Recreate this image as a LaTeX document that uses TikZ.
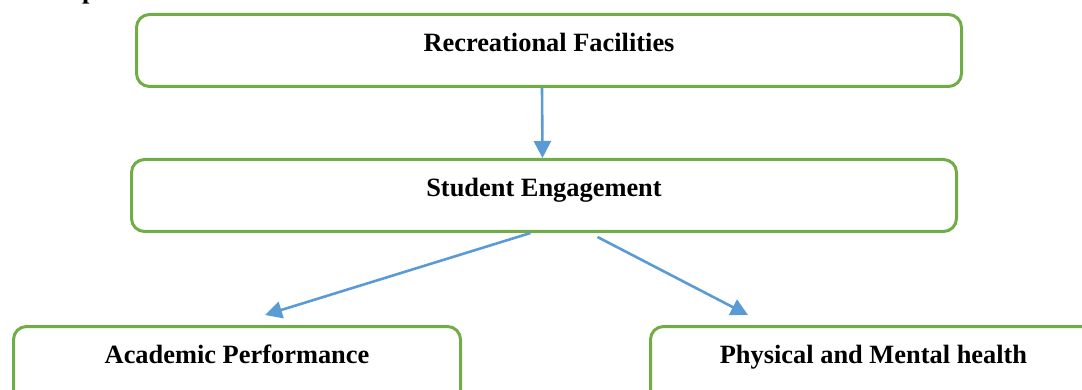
\documentclass[tikz,border=0pt]{standalone}
\usepackage{fontspec}
\setmainfont{Liberation Serif}
\usetikzlibrary{arrows.meta,calc}
\definecolor{boxgreen}{HTML}{70AD47}
\definecolor{linkblue}{HTML}{5B9BD5}
\begin{document}
\begin{tikzpicture}[x=1pt,y=-1pt,
  box/.style={draw=boxgreen,line width=3pt,rounded corners=13pt,
    minimum width=#1,minimum height=72pt,anchor=north west,inner sep=0pt},
  box/.default=825pt,
  label/.style={anchor=base,font=\fontsize{26.4}{30}\selectfont\bfseries,inner sep=0pt},
  link/.style={draw=linkblue,line width=2.6pt,
    -{Triangle[length=17pt,width=17pt]}}]
\useasboundingbox (0,0) rectangle (1082,390);

% heading line above the chart, mostly outside the page
\node[label,anchor=base west] (head) at (82,-1.5) {p};

% boxes
\node[box=825pt] (rf) at (135,13) {};
\node[box=825pt] (se) at (130,158) {};
\node[box=447pt,minimum height=80pt] (ap) at (12,325) {};
\node[box=446pt,minimum height=80pt] (ph) at (649,325) {};

% box titles
\node[label] (rft) at ($(rf.north)+(0,39)$) {Recreational Facilities};
\node[label] (set) at ($(se.north)+(0,39)$) {Student Engagement};
\node[label] (apt) at ($(ap.north)+(0,38)$) {Academic Performance};
\node[label] (pht) at ($(ph.north)+(0,38)$) {Physical and Mental health};

% links
\draw[link] ($(rf.south)+(-7,0)$) -- ($(se.north)+(-1.5,0)$);
\draw[link] ($(se.south)+(-13.5,0)$) -- ($(ap.north)+(28,-10)$);
\draw[link] ($(se.south)+(53.5,4)$) -- ($(ph.north west)+(99,-10)$);
\end{tikzpicture}
\end{document}
